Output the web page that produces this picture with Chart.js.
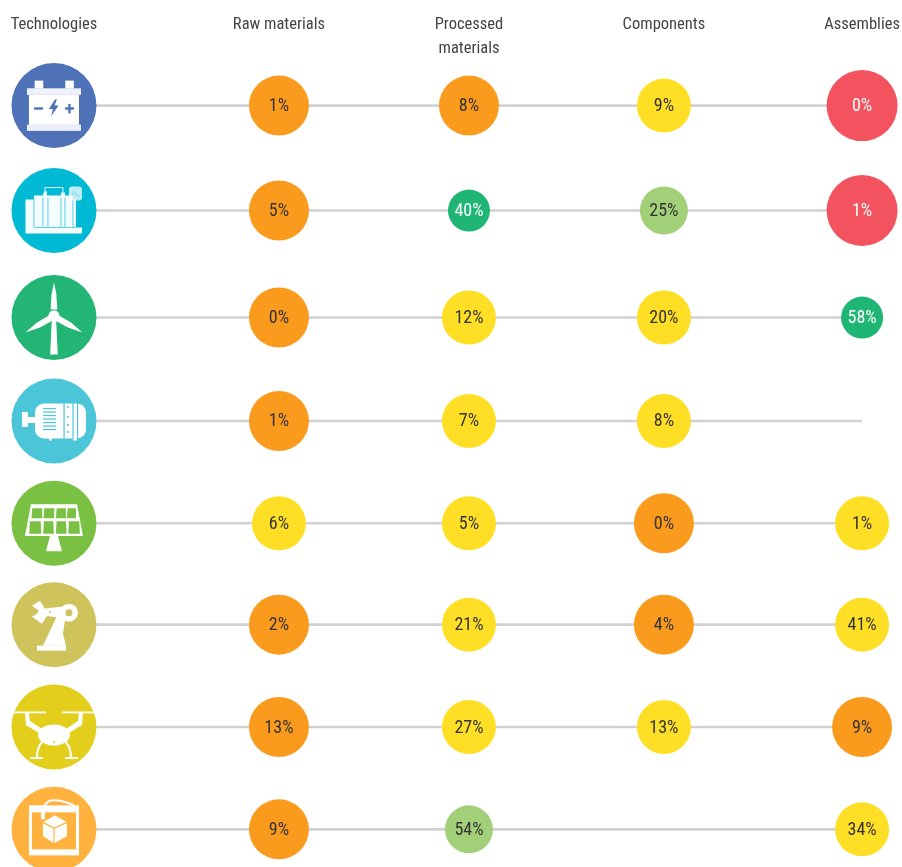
<!DOCTYPE html>
<html><head><meta charset="utf-8">
<style>html,body{margin:0;padding:0;background:#fff}canvas{display:block}</style>
<script src="https://cdn.jsdelivr.net/npm/chart.js@4"></script>
</head><body><canvas id="c" width="902" height="867"></canvas>
<script>
const columnLabels = ['Technologies','Raw materials',['Processed','materials'],'Components','Assemblies'];
const technologies = ['Batteries','Fuel cells','Wind turbines','Traction motors','Solar PV','Robotics','Drones','3D printing'];
const rawMaterials       = [1,5,0,1,6,2,13,9];
const processedMaterials = [8,40,12,7,5,21,27,54];
const components         = [9,25,20,8,0,4,13,null];
const assemblies         = [0,1,58,null,1,41,9,34];
const rawLevels       = ['orange','orange','orange','orange','yellow','orange','orange','orange'];
const processedLevels = ['orange','green','yellow','yellow','yellow','yellow','yellow','light'];
const componentLevels = ['yellow','light','yellow','yellow','orange','orange','yellow',null];
const assemblyLevels  = ['red','red','green',null,'yellow','yellow','orange','yellow'];

const columnAt = [0,1.184,2.184,3.21,4.253];
const rowAt = [0,1.015,2.05,3.05,4.04,5.02,6.01,7];
const iconColors = ['#4f71b8','#00b9d4','#23b573','#4bc5d8','#7ac143','#cfc35b','#e3cf1b','#ffb23e'];
const levelStyle = {
  red:   {c:'#f3535e', r:35.5, t:'#ffffff'},
  orange:{c:'#fa9b1e', r:30,   t:'#333333'},
  yellow:{c:'#ffdf26', r:27,   t:'#333333'},
  light: {c:'#a2d078', r:24,   t:'#333333'},
  green: {c:'#1fb574', r:21,   t:'#ffffff'}
};
const valueCols = [rawMaterials,processedMaterials,components,assemblies];
const levelCols = [rawLevels,processedLevels,componentLevels,assemblyLevels];

const datasets = [];
rowAt.forEach(y=>datasets.push({type:'line',data:[{x:columnAt[0],y},{x:columnAt[4],y}],borderColor:'#d2d2d2',borderWidth:2.6,pointRadius:0,order:3,clip:false}));
datasets.push({type:'bubble',label:'Technologies',data:rowAt.map(y=>({x:columnAt[0],y,r:42.5})),backgroundColor:iconColors,borderWidth:0,order:2,clip:false});
valueCols.forEach((vals,i)=>{
  const pts=[],cols=[],txt=[],tc=[];
  vals.forEach((v,k)=>{ if(v===null) return;
    const s=levelStyle[levelCols[i][k]];
    pts.push({x:columnAt[i+1],y:rowAt[k],r:s.r}); cols.push(s.c); txt.push(v+'%'); tc.push(s.t);});
  datasets.push({type:'bubble',data:pts,backgroundColor:cols,borderWidth:0,order:1,clip:false,valueText:txt,valueColor:tc});
});

const W='#ffffff';
function poly(g,pts,fill){g.beginPath();pts.forEach((p,i)=>i?g.lineTo(p[0],p[1]):g.moveTo(p[0],p[1]));g.closePath();g.fillStyle=fill||W;g.fill();}
function rect(g,x,y,w,h,fill){g.fillStyle=fill||W;g.fillRect(x,y,w,h);}
function circ(g,x,y,r,fill){g.beginPath();g.arc(x,y,r,0,Math.PI*2);g.fillStyle=fill||W;g.fill();}
const glyphs=[
 function(g,b){
  rect(g,-19.3,-25,8.6,8);rect(g,11.3,-25,8.6,8);
  rect(g,-27,-17.3,54,6.6,'#f0f2fb');rect(g,-25,-10.7,50,30);rect(g,-27,19,54,6.3,'#eceffa');
  rect(g,-20,1.7,9,2.4,b);rect(g,11,1.7,9,2.4,b);rect(g,14.3,-1.7,2.4,9.5,b);
  poly(g,[[1,-6],[-5,3.5],[-1,3.5],[-3,11],[4.5,0],[0.5,0],[3,-6]],b);
 },
 function(g,b){
  poly(g,[[-28.5,-11],[-20,-11],[-20,-15],[-11,-15],[-10,-19],[-7,-19],[-7,-15],[7,-15],[7,-18],[11,-18],[11,-15],[19,-15],[19,-11],[22,-11],[22,17],[28,17],[28,23],[-28.5,23]],'#f3fcfe');
  g.strokeStyle='#4dcde2';g.lineWidth=0.9;
  [-20,-11,-6,7,11,19].forEach(x=>{g.beginPath();g.moveTo(x,-13);g.lineTo(x,17);g.stroke();});
  g.beginPath();g.moveTo(-20,17);g.lineTo(22,17);g.stroke();
  g.strokeStyle='#ffffff';g.beginPath();g.moveTo(-9,-18);g.lineTo(-9,-23);g.lineTo(9,-23);g.lineTo(9,-18);g.stroke();
  g.fillStyle='rgba(255,255,255,0.75)';g.beginPath();g.roundRect(15,-24,13,14,3);g.fill();
  g.fillStyle='#7ddbe9';g.font='8px "Roboto Condensed", Roboto';g.textAlign='center';g.textBaseline='middle';g.fillText('H₂',21.5,-17);
 },
 function(g,b){
  poly(g,[[-2,-2],[2,-2],[3.8,37],[-3.8,37]]);
  poly(g,[[0,-35],[2.3,-24],[3.4,-8],[-3.4,-8],[-2.3,-24]]);
  poly(g,[[-28.5,15],[-17,5],[-5,-2],[-2,3.5],[-14,10]]);
  poly(g,[[28.5,15],[17,5],[5,-2],[2,3.5],[14,10]]);
  circ(g,0,-2,5.4);
 },
 function(g,b){
  rect(g,-32,-9,6,15);rect(g,-26,-4,7,6);
  g.fillStyle=W;g.beginPath();g.roundRect(-19,-17.5,51,35,9);g.fill();
  rect(g,-5,17,3,2.5);rect(g,19,17,4,2.5);
  for(let i=0;i<7;i++)rect(g,-11,-13+i*3.5,13,1.2,b);
  rect(g,9.5,-18,1.2,36,b);rect(g,18.5,-18,1.2,36,b);rect(g,23,-18,1.2,36,b);
  [-14,-4,4,11].forEach(y=>circ(g,14,y,1,b));
 },
 function(g,b){
  poly(g,[[-23,-19],[23,-19],[29,12.7],[-29,12.7]]);
  poly(g,[[-4,12.7],[4,12.7],[8,28],[-8,28]]);
  [[-21.7,-11.7],[-9.7,0.3],[2.7,12],[13.7,22]].forEach(c=>poly(g,[[c[0],-15],[c[1],-15],[c[1],-5],[c[0]-0.8,-5]],b));
  [[-24.7,-13.3],[-10.7,-0.7],[2,12],[14.3,25.3]].forEach(c=>poly(g,[[c[0]+0.6,-2],[c[1],-2],[c[1]+0.6,10.5],[c[0],10.5]],b));
 },
 function(g,b){
  rect(g,-17,21,29,5);
  poly(g,[[-11,21],[4,-11],[11,-4],[9,9],[12,21]]);
  poly(g,[[-11,-16],[16,-19],[18,-6],[-11,-9]]);
  poly(g,[[-22,-19],[-14,-24],[-9,-16],[-9,-9],[-7,-9],[-12,-1],[-22,-8],[-17,-11],[-15,-14]]);
  circ(g,15,-12,9);circ(g,15,-12,3.5,b);
  circ(g,-4,-12.5,1,b);
 },
 function(g,b){
  rect(g,-42,-15.5,34,1.8);rect(g,8,-15.5,34,1.8);
  poly(g,[[-29,-14],[-25,-14],[-24,-6],[-12,2],[-15,6],[-28,-2]]);
  poly(g,[[29,-14],[25,-14],[24,-6],[12,2],[15,6],[28,-2]]);
  g.fillStyle=W;g.beginPath();g.ellipse(0,8,16,10.5,0,0,Math.PI*2);g.fill();
  g.strokeStyle=W;g.lineWidth=2;
  g.beginPath();g.moveTo(-11,14);g.quadraticCurveTo(-17,20,-17,31);g.moveTo(-24,31);g.lineTo(-11,31);g.stroke();
  g.beginPath();g.moveTo(11,14);g.quadraticCurveTo(17,20,17,31);g.moveTo(24,31);g.lineTo(11,31);g.stroke();
  circ(g,0,15,1,b);
 },
 function(g,b){
  rect(g,-25,-24,50,50);rect(g,-22,-17,44,37,b);
  g.strokeStyle=W;g.lineWidth=2;
  g.beginPath();g.moveTo(-11,-12);g.quadraticCurveTo(-12,-29,0,-29);g.quadraticCurveTo(8,-29,20,-24);g.stroke();
  rect(g,-13,-17,4,7);
  poly(g,[[1,-14],[13,-7],[13,7],[0,14],[-11,7],[-11,-7]]);
  g.strokeStyle=b;g.lineWidth=1.2;
  g.beginPath();g.moveTo(-11,-7);g.lineTo(0,-1);g.lineTo(13,-7);g.moveTo(0,-1);g.lineTo(0,14);g.stroke();
 }
];

const iconPlugin={id:'icons',afterDatasetsDraw(chart){
  const g=chart.ctx,m=chart.getDatasetMeta(rowAt.length);
  m.data.forEach((el,i)=>{g.save();g.translate(el.x,el.y);glyphs[i](g,iconColors[i]);g.restore();});
}};
const valuePlugin={id:'values',afterDraw(chart){
  const g=chart.ctx;
  chart.data.datasets.forEach((d,di)=>{ if(!d.valueText) return;
    chart.getDatasetMeta(di).data.forEach((el,i)=>{
      g.save();g.font='18px "Roboto Condensed", Roboto, sans-serif';
      g.fillStyle=d.valueColor[i];g.textAlign='center';g.textBaseline='middle';
      g.fillText(d.valueText[i],el.x,el.y+1);g.restore();
    });
  });
}};
new Chart(document.getElementById('c'),{
  data:{datasets},
  options:{responsive:false,animation:false,events:[],
    layout:{padding:0,autoPadding:false},
    plugins:{legend:{display:false},tooltip:{enabled:false},title:{display:false}},
    scales:{
      x:{type:'linear',position:'top',min:-0.284,max:4.463,
        grid:{display:false,drawTicks:false},border:{display:false},
        afterBuildTicks(s){s.ticks=columnAt.map(v=>({value:v}));},
        afterFit(s){s.height=60;s.paddingLeft=0;s.paddingRight=0;s.paddingTop=0;s.paddingBottom=0;},
        ticks:{autoSkip:false,maxRotation:0,padding:0,crossAlign:'far',color:'#444444',
          font:{family:'"Roboto Condensed", Roboto, sans-serif',size:16.5,lineHeight:1.4},
          callback(v,i){return columnLabels[i];}}},
      y:{type:'linear',display:false,reverse:true,min:-0.441,max:7.364}
    }},
  plugins:[iconPlugin,valuePlugin]
});
</script></body></html>
